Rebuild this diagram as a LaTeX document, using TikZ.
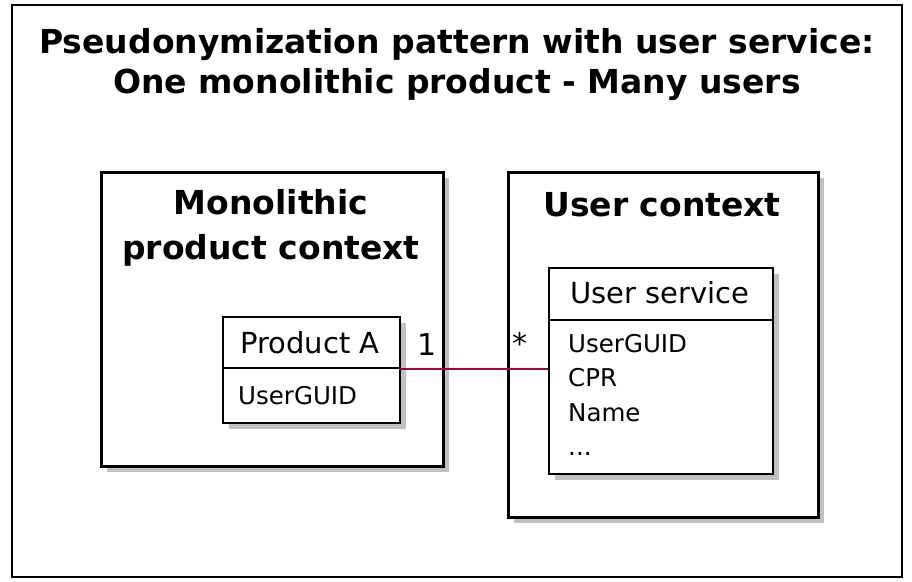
\documentclass[tikz,border=0pt]{standalone}
\usepackage{fontspec}
\setmainfont{DejaVu Sans}
\definecolor{linkred}{HTML}{A80036}
\tikzset{
  px/.style={x=1pt,y=-1pt},
  box/.style={draw=black, line width=2.5pt, fill=white},
  shade/.style={fill=black!40, opacity=0.6},
  ctitle/.style={font=\fontsize{33}{45}\selectfont\bfseries, align=center, anchor=center},
  clsname/.style={font=\fontsize{29}{34}\selectfont, anchor=center},
  attr/.style={font=\fontsize{24.5}{34.5}\selectfont, anchor=west, inner sep=0pt},
  mult/.style={font=\fontsize{30}{34}\selectfont, inner sep=0pt},
}
\begin{document}
\begin{tikzpicture}[px]
\useasboundingbox (0,0) rectangle (912,581);
\fill[white] (0,0) rectangle (912,581);
% outer frame
\draw[line width=2.5pt] (12,5) rectangle (902,577);
\node[font=\fontsize{33}{40}\selectfont\bfseries, align=center] (title) at (457,65)
  {Pseudonymization pattern with user service:\\One monolithic product - Many users};
% left context
\fill[shade] (107,178) rectangle (449,472);
\node[box, minimum width=342pt, minimum height=294pt, anchor=north west, inner sep=0pt] (leftctx) at (100,171) {};
\node[ctitle] (lefttitle) at (271,228) {Monolithic\\product context};
% right context
\fill[shade] (514,178) rectangle (824,523);
\node[box, minimum width=310pt, minimum height=345pt, anchor=north west, inner sep=0pt] (rightctx) at (507,171) {};
\node[ctitle] (righttitle) at (662,205) {User context};
% Product A class
\fill[shade] (229,323) rectangle (406,429);
\node[box, line width=2pt, minimum width=177pt, minimum height=106pt, anchor=north west, inner sep=0pt] (prod) at (222,316) {};
\draw[line width=2pt] (222,368) -- (399,368);
\node[clsname] (prodname) at (310,343) {Product A};
\node[attr] (prodattr) at (238,396) {UserGUID};
% User service class
\fill[shade] (555,274) rectangle (779,480);
\node[box, line width=2pt, minimum width=224pt, minimum height=206pt, anchor=north west, inner sep=0pt] (usr) at (548,267) {};
\draw[line width=2pt] (548,320) -- (772,320);
\node[clsname] (usrname) at (660,293) {User service};
\node[attr, align=left, anchor=north west] (usrattr) at (568,334) {UserGUID\\CPR\\Name\\...};
% link
\coordinate (pl) at (399,369);
\coordinate (ul) at (548,369);
\draw[linkred, line width=1.5pt] (pl) -- (ul);
\node[mult] (m1) at (427,345) {1};
\node[mult] (m2) at (520,343) {*};
\end{tikzpicture}
\end{document}
